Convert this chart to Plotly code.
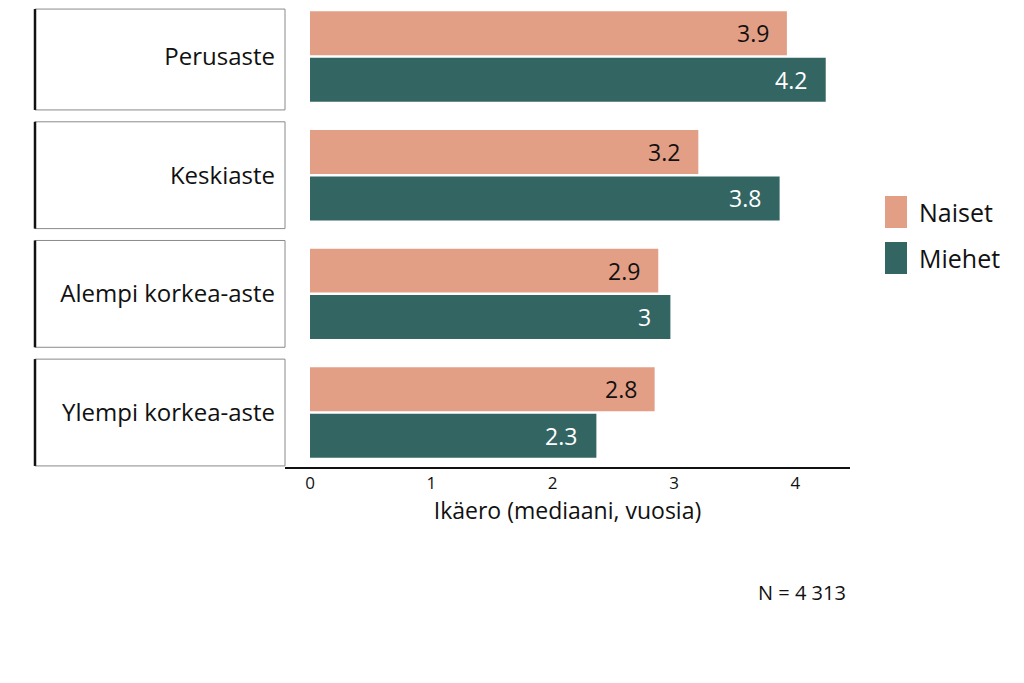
import plotly.graph_objects as go

categories = ["Perusaste", "Keskiaste", "Alempi korkea-aste", "Ylempi korkea-aste"]
naiset = [3.93, 3.2, 2.87, 2.84]
miehet = [4.25, 3.87, 2.97, 2.36]
naiset_labels = ["3.9", "3.2", "2.9", "2.8"]
miehet_labels = ["4.2", "3.8", "3", "2.3"]
x_ticks = [0, 1, 2, 3, 4]

C_N = "#E39F85"
C_M = "#336663"
FONT = "Open Sans"

# page is shown with an 8px body margin, so work in page coords = screen - 8
OFF = 8
W, H = 1024 - OFF, 683 - OFF
L, R, T, B = 285 - OFF, W - (850 - OFF), 0, H - (467 - OFF)
PW, PH = W - L - R, H - T - B
bargap, bargroupgap = 0.217, 0.054


def px_x(sx):
    return (sx - OFF - L) / PW


def px_y(sy):
    return 1 - (sy - OFF - T) / PH


fig = go.Figure()
fig.add_trace(go.Bar(y=categories, x=naiset, name="Naiset", orientation="h",
                     marker=dict(color=C_N, line=dict(width=0))))
fig.add_trace(go.Bar(y=categories, x=miehet, name="Miehet", orientation="h",
                     marker=dict(color=C_M, line=dict(width=0))))

slot = (1 - bargap) / 2
annotations = []
for i, cat in enumerate(categories):
    annotations.append(dict(x=naiset[i], y=i - slot / 2, xref="x", yref="y",
                            text=naiset_labels[i], showarrow=False, xanchor="right",
                            xshift=-16, font=dict(family=FONT, size=23, color="#111111")))
    annotations.append(dict(x=miehet[i], y=i + slot / 2, xref="x", yref="y",
                            text=miehet_labels[i], showarrow=False, xanchor="right",
                            xshift=-17, font=dict(family=FONT, size=23, color="#ffffff")))

shapes = []
x0p = px_x(35)
for i in range(len(categories)):
    top = max(i - 0.45, -0.40)
    shapes.append(dict(type="rect", xref="paper", yref="y", x0=x0p, x1=0,
                       y0=top, y1=i + 0.45, line=dict(color="#8a8a8a", width=1),
                       fillcolor="rgba(0,0,0,0)", layer="below"))
    shapes.append(dict(type="line", xref="paper", yref="y", x0=x0p, x1=x0p,
                       y0=top, y1=i + 0.45, line=dict(color="#111111", width=2.5)))

# custom legend
for j, (nm, col) in enumerate([("Naiset", C_N), ("Miehet", C_M)]):
    yc = 212 + j * 46
    shapes.append(dict(type="rect", xref="paper", yref="paper", x0=px_x(885), x1=px_x(907),
                       y0=px_y(yc - 16), y1=px_y(yc + 16),
                       fillcolor=col, line=dict(width=0)))
    annotations.append(dict(x=px_x(917), y=px_y(yc), xref="paper",
                            yref="paper", text=nm, showarrow=False, xanchor="left",
                            yanchor="middle", font=dict(family=FONT, size=25, color="#111111")))

annotations.append(dict(x=px_x(848), y=px_y(592), xref="paper",
                        yref="paper", text="N = 4 313", showarrow=False, xanchor="right",
                        yanchor="middle", font=dict(family=FONT, size=20, color="#111111")))

fig.update_layout(
    width=W, height=H,
    margin=dict(l=L, r=R, t=T, b=B),
    paper_bgcolor="white", plot_bgcolor="white",
    barmode="group", bargap=bargap, bargroupgap=bargroupgap,
    showlegend=False,
    shapes=shapes, annotations=annotations,
    font=dict(family=FONT, color="#111111"),
)
fig.update_xaxes(range=[-0.206, 4.45], tickvals=x_ticks, ticks="", showgrid=False,
                 zeroline=False, showline=True, linecolor="#111111", linewidth=2,
                 tickfont=dict(size=17, family=FONT, color="#111111"),
                 title=dict(text="Ikäero (mediaani, vuosia)", standoff=2,
                            font=dict(size=23, family=FONT, color="#111111")))
fig.update_yaxes(range=[3.459, -0.409], showgrid=False, zeroline=False, showline=False,
                 ticks="", ticklabelstandoff=9,
                 tickfont=dict(size=24, family=FONT, color="#111111"))

fig.write_html("out.html")
